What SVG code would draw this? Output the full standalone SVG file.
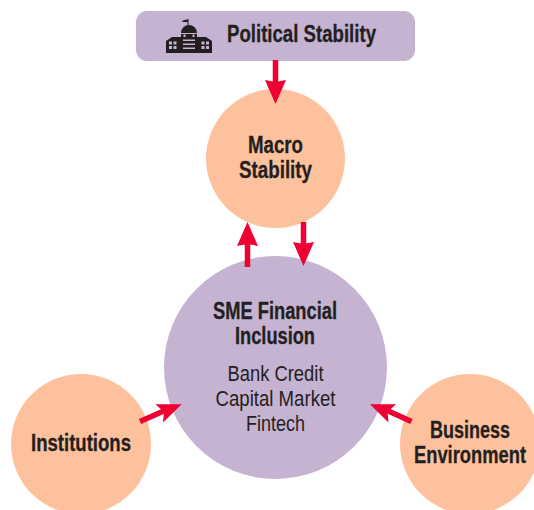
<svg xmlns="http://www.w3.org/2000/svg" width="534" height="510" viewBox="0 0 534 510">
<style>
.peach{fill:#fec19e}
.lilac{fill:#c6b2d1}
.b{font:bold 23px "Liberation Sans Narrow","Liberation Sans",Arial,sans-serif;fill:#231f20;stroke:#231f20;stroke-width:.3;text-anchor:middle}
.r{font:22px "Liberation Sans Narrow","Liberation Sans",Arial,sans-serif;fill:#231f20;text-anchor:middle}
.c{stroke:#ee0033;stroke-width:5.500;fill:none}
.h{fill:#ee0033}
.i{fill:#231f20}
</style>
<rect width="534" height="510" fill="#fff"/>
<g id="node-political">
<rect class="lilac" x="136" y="11" width="279" height="50" rx="11"/>
<g id="icon">
<path class="i" d="M166 53V41L172 37H181V34H197V37H206L212 41V53z"/>
<path class="i" d="M181 33a8 8 0 0 1 16 0zM188.500 25V19L183 20.500 182 22 187.500 22V25z"/>
<path fill="#c6b2d1" d="M169 41.500h3v3h-3zM173.500 41.500h3v3h-3zM169 46h3v3h-3zM173.500 46h3v3h-3zM201.500 41.500h3v3h-3zM206 41.500h3v3h-3zM201.500 46h3v3h-3zM206 46h3v3h-3zM183 39.500h12v1.500h-12zM183 43.500h12v1.500h-12zM183 47.500h12v1.500h-12zM183.500 34.500h2v2.500h-2zM192.500 34.500h2v2.500h-2z"/>
</g>
<text class="b" x="301.500" y="42" textLength="149" lengthAdjust="spacingAndGlyphs">Political Stability</text>
</g>
<g id="node-macro">
<circle class="peach" cx="275.500" cy="158.500" r="69.500"/>
<text class="b" x="275.500" y="153" textLength="55" lengthAdjust="spacingAndGlyphs">Macro</text>
<text class="b" x="275.500" y="178" textLength="73" lengthAdjust="spacingAndGlyphs">Stability</text>
</g>
<g id="node-sme">
<circle class="lilac" cx="275.500" cy="367.500" r="111.500"/>
<text class="b" x="275" y="318.500" textLength="124" lengthAdjust="spacingAndGlyphs">SME Financial</text>
<text class="b" x="275" y="343.500" textLength="80" lengthAdjust="spacingAndGlyphs">Inclusion</text>
<text class="r" x="275.500" y="380.500" textLength="96" lengthAdjust="spacingAndGlyphs">Bank Credit</text>
<text class="r" x="275.500" y="405.500" textLength="120" lengthAdjust="spacingAndGlyphs">Capital Market</text>
<text class="r" x="275.500" y="430.500" textLength="59" lengthAdjust="spacingAndGlyphs">Fintech</text>
</g>
<g id="node-institutions">
<circle class="peach" cx="81" cy="444" r="70"/>
<text class="b" x="81" y="451" textLength="100" lengthAdjust="spacingAndGlyphs">Institutions</text>
</g>
<g id="node-business">
<circle class="peach" cx="470" cy="444" r="70"/>
<text class="b" x="470" y="438" textLength="80" lengthAdjust="spacingAndGlyphs">Business</text>
<text class="b" x="470" y="463" textLength="112" lengthAdjust="spacingAndGlyphs">Environment</text>
</g>
<g id="connectors">
<path class="c" d="M275.500 60V85"/><path class="h" d="M265 80L275.500 82 286 80 275.500 104z"/>
<path class="c" d="M247.500 267V240"/><path class="h" d="M237 246L247.500 244 258 246 247.500 222z"/>
<path class="c" d="M303.500 222V248"/><path class="h" d="M293 242L303.500 244 314 242 303.500 266z"/>
<path class="c" d="M140 421.500L166 410"/><path class="h" d="M155.500 404.300L164 412 163 422.500 181.700 404.300z"/>
<path class="c" d="M411.500 421.500L386 410"/><path class="h" d="M396 404.300L387.500 412 388.500 422.500 370 404.300z"/>
</g>
</svg>
